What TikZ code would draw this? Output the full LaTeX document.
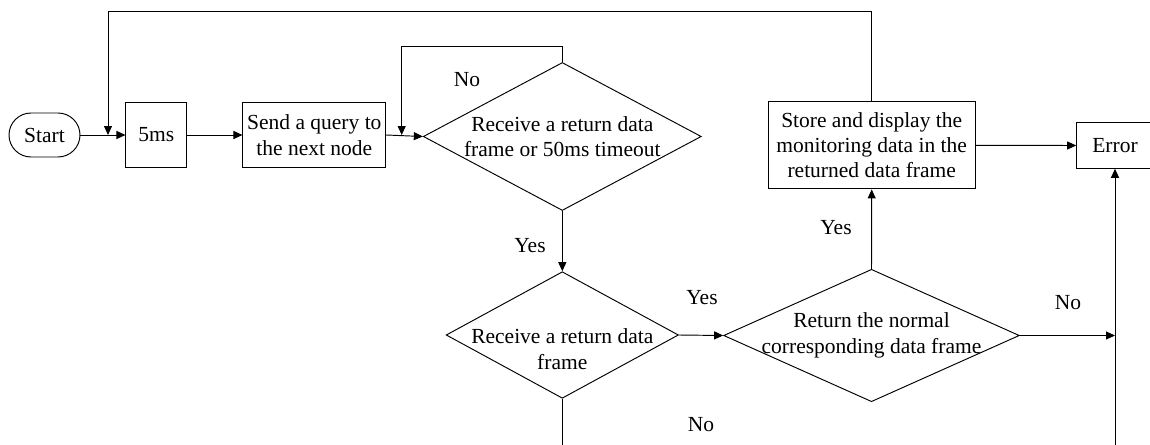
\documentclass[tikz,border=0pt]{standalone}
\usepackage{fontspec}
\setmainfont{Liberation Serif}
\usetikzlibrary{shapes.geometric,arrows.meta}
\begin{document}
\begin{tikzpicture}[x=1pt,y=-1pt,
  every node/.style={font=\fontsize{21.5}{25.3}\selectfont},
  box/.style={draw,line width=0.95pt,inner sep=0pt,align=center},
  dec/.style={draw,diamond,line width=0.95pt,inner sep=0pt},
  arr/.style={line width=0.95pt,-{Triangle[length=9pt,width=8pt]}},
  ln/.style={line width=0.95pt},
  txt/.style={inner sep=0pt,align=center}]
\useasboundingbox (0,0) rectangle (1150,444);

% process boxes
\node[box,rounded corners=22pt,minimum width=71pt,minimum height=44pt] (start) at (44.5,135) {Start};
\node[box,minimum width=60.7pt,minimum height=65pt] (wait) at (156.3,135) {5ms};
\node[box,minimum width=142.7pt,minimum height=65pt] (send) at (314.3,135) {Send a query to\\the next node};
\node[box,minimum width=206.7pt,minimum height=87.3pt] (store) at (871.7,145.3) {Store and display the\\monitoring data in the\\returned data frame};
\node[box,minimum width=76.6pt,minimum height=45.6pt] (err) at (1115,145.5) {Error};

% decisions
\node[dec,minimum width=278pt,minimum height=148pt,
  label={[txt]center:Receive a return data\\frame or 50ms timeout}] (d1) at (562.3,136.5) {};
\node[dec,minimum width=232.3pt,minimum height=126.6pt,
  label={[txt,yshift=-14pt]center:Receive a return data\\frame}] (d2) at (562.3,335) {};
\node[dec,minimum width=295.7pt,minimum height=132.4pt,
  label={[txt]center:Return the normal\\corresponding data frame}] (d3) at (871.5,335.5) {};

% helper points
\coordinate (j0) at (108,135);
\coordinate (t0) at (108,11);
\coordinate (j1) at (401.7,135);
\coordinate (t1) at (401.7,46.7);
\coordinate (j2) at (1115,335.5);
\coordinate (b1) at (562.3,446);
\coordinate (b2) at (1115,446);

% connectors
\draw[arr] (start) -- (wait);
\draw[arr] (wait) -- (send);
\draw[arr] (send.east) -- (d1.west);
\draw[arr] (d1.north) |- (t1) -- (j1);
\draw[arr] (d1.south) -- (d2.north);
\draw[arr] (d2.east) -- (d3.west);
\draw[ln] (d2.south) -- (b1);
\draw[arr] (d3.north) -- (store.south);
\draw[arr] (store.east) -- (err.west);
\draw[arr] (d3.east) -- (j2);
\draw[arr] (b2) -- (err.south);
\draw[arr] (store.north) |- (t0) -- (j0);

% branch labels
\node[txt] (n1) at (467,80) {No};
\node[txt] (y1) at (530,246) {Yes};
\node[txt] (y2) at (702,298) {Yes};
\node[txt] (n2) at (701,425) {No};
\node[txt] (y3) at (836,228) {Yes};
\node[txt] (n3) at (1068,303) {No};
\end{tikzpicture}
\end{document}
